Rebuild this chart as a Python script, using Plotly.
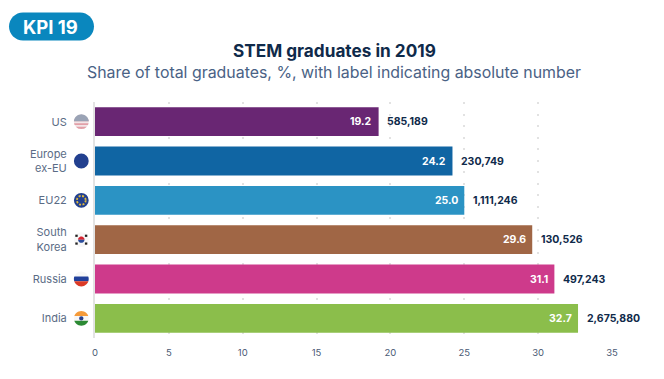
import math
import plotly.graph_objects as go

categories = ["US", "Europe<br>ex-EU", "EU22", "South<br>Korea", "Russia", "India"]
shares = [19.2, 24.2, 25.0, 29.6, 31.1, 32.7]
share_labels = ["19.2", "24.2", "25.0", "29.6", "31.1", "32.7"]
absolute_labels = ["585,189", "230,749", "1,111,246", "130,526", "497,243", "2,675,880"]
bar_colors = ["#692673", "#1065A3", "#2B93C4", "#A06645", "#CE3A8B", "#8BBE4B"]
x_ticks = [0, 5, 10, 15, 20, 25, 30, 35]

FONT = "Inter, Open Sans, sans-serif"
NAVY = "#0F2A4A"
FLAG_X = -13.7   # px from the y axis
R = 7.4

fig = go.Figure(go.Bar(
    x=shares, y=categories, orientation="h",
    marker=dict(color=bar_colors, line_width=0),
    hoverinfo="skip",
))

annotations = []
for cat, val, inner, outer in zip(categories, shares, share_labels, absolute_labels):
    annotations.append(dict(x=val, y=cat, text=f"<b>{inner}</b>", showarrow=False,
                            xanchor="right", xshift=-4.5,
                            font=dict(family=FONT, size=10.5, color="white")))
    annotations.append(dict(x=val, y=cat, text=f"<b>{outer}</b>", showarrow=False,
                            xanchor="left", xshift=6.5,
                            font=dict(family=FONT, size=10.5, color=NAVY)))
annotations += [
    dict(x=0.5, xref="x domain", xshift=-19.4, y=1, yref="y domain", yanchor="middle", yshift=51.5,
         text="<b>STEM graduates in 2019</b>",
         showarrow=False, font=dict(family=FONT, size=17.2, color=NAVY)),
    dict(x=0.5, xref="x domain", xshift=-19.4, y=1, yref="y domain", yanchor="middle", yshift=29.5,
         text="Share of total graduates, %, with label indicating absolute number",
         showarrow=False, font=dict(family=FONT, size=15.9, color="#4A6285")),
]


def anchor(cat):
    return 1 - (categories.index(cat) + 0.5) / len(categories)


def base(cat):
    return dict(layer="above", xref="paper", yref="paper", xsizemode="pixel", ysizemode="pixel",
                xanchor=0, yanchor=anchor(cat))


def chord(cat, y_top, y_bot, color):
    """Horizontal band of a flag disc, y in radius units (+1 = top)."""
    steps = 10
    ys = [y_top + (y_bot - y_top) * i / steps for i in range(steps + 1)]
    pts = [(math.sqrt(max(0, 1 - y * y)), y) for y in ys]
    pts += [(-math.sqrt(max(0, 1 - y * y)), y) for y in reversed(ys)]
    path = "M " + " L ".join(f"{FLAG_X + px * R:.2f},{py * R:.2f}" for px, py in pts) + " Z"
    return dict(type="path", path=path, fillcolor=color, line_width=0, **base(cat))


def disc(cat, color, r=R, line=None, dash=None):
    s = dict(type="circle", x0=FLAG_X - r, x1=FLAG_X + r, y0=-r, y1=r,
             fillcolor=color or "rgba(0,0,0,0)", **base(cat))
    s["line"] = dict(color=line, width=1.8, dash=dash) if line else dict(width=0)
    return s


def rect(cat, dx0, dx1, dy0, dy1, color):
    return dict(type="rect", x0=FLAG_X + dx0, x1=FLAG_X + dx1, y0=dy0, y1=dy1,
                fillcolor=color, line_width=0, **base(cat))


def half(cat, r, color, top=True):
    sign = 1 if top else -1
    path = "M " + " L ".join(
        f"{FLAG_X + r * math.cos(math.radians(a)):.2f},{sign * r * math.sin(math.radians(a)):.2f}"
        for a in range(0, 181, 15)) + " Z"
    return dict(type="path", path=path, fillcolor=color, line_width=0, **base(cat))


shapes = []
# US
c = categories[0]
shapes.append(disc(c, "#F3E6E8"))
for t, b in [(.3, .05), (-.2, -.45), (-.7, -1)]:
    shapes.append(chord(c, t, b, "#E2A0A8"))
shapes.append(chord(c, 1, .05, "#9AA3B5"))
# Europe ex-EU
shapes.append(disc(categories[1], "#22408F"))
# EU22
c = categories[2]
shapes.append(disc(c, "#22408F"))
shapes.append(disc(c, None, r=4.4, line="#E2B93B", dash="2px,1.5px"))
# South Korea
c = categories[3]
shapes.append(disc(c, "#F7F7F7"))
shapes.append(half(c, 3.2, "#D8232F", True))
shapes.append(half(c, 3.2, "#2A4C9B", False))
for sx in (-1, 1):
    for sy in (-1, 1):
        shapes.append(rect(c, min(sx * 3.6, sx * 6), max(sx * 3.6, sx * 6),
                           min(sy * 2.8, sy * 5), max(sy * 2.8, sy * 5), "#222222"))
# Russia
c = categories[4]
shapes.append(chord(c, 1, .35, "#F7F7F7"))
shapes.append(chord(c, .35, -.3, "#21409A"))
shapes.append(chord(c, -.3, -1, "#DB3A26"))
# India
c = categories[5]
shapes.append(chord(c, 1, .33, "#F59B3A"))
shapes.append(chord(c, .33, -.33, "#F7F7F7"))
shapes.append(chord(c, -.33, -1, "#2C8A34"))
shapes.append(disc(c, "#27408B", r=2.2))

# KPI pill, in pixels from the plot's top-left corner
x0, x1, y0, y1 = -86.0, -1.0, 61.5, 89.5
r = (y1 - y0) / 2
k = r * 0.5523
pill = (f"M {x0 + r},{y0} L {x1 - r},{y0} "
        f"C {x1 - r + k},{y0} {x1},{y0 + r - k} {x1},{y0 + r} "
        f"C {x1},{y0 + r + k} {x1 - r + k},{y1} {x1 - r},{y1} "
        f"L {x0 + r},{y1} "
        f"C {x0 + r - k},{y1} {x0},{y0 + r + k} {x0},{y0 + r} "
        f"C {x0},{y0 + r - k} {x0 + r - k},{y0} {x0 + r},{y0} Z")
shapes.append(dict(type="path", layer="above", xref="paper", yref="paper", xsizemode="pixel", ysizemode="pixel",
                   xanchor=0, yanchor=1, path=pill, fillcolor="#0A87BE", line_width=0))
annotations.append(dict(x=0, xref="x", xshift=-44.5, y=1, yref="paper", yanchor="middle", yshift=75.5,
                        text="<b>KPI 19</b>",
                        showarrow=False, font=dict(family=FONT, size=18.5, color="white")))

fig.update_layout(
    width=656, height=371, autosize=False,
    margin=dict(l=87, r=52.3, t=93.5, b=41, autoexpand=False),
    paper_bgcolor="white", plot_bgcolor="white",
    showlegend=False, bargap=0.265,
    shapes=shapes, annotations=annotations,
    xaxis=dict(range=[0, 35], tickvals=x_ticks, showgrid=True, gridcolor="#E2E2E2", gridwidth=2,
               griddash="2px,9.5px", zeroline=False, showline=False, ticks="outside", ticklen=6,
               tickcolor="rgba(0,0,0,0)", tickfont=dict(family=FONT, size=9.5, color="#4A5A75")),
    yaxis=dict(autorange="reversed", type="category", categoryorder="array", categoryarray=categories,
               showgrid=False, zeroline=False, showline=True, linecolor="#E3E3E3", linewidth=2,
               ticks="outside", ticklen=24, tickcolor="rgba(0,0,0,0)",
               tickfont=dict(family=FONT, size=11, color="#5A6B85")),
)

fig.write_html("out.html", config=dict(displayModeBar=False))
